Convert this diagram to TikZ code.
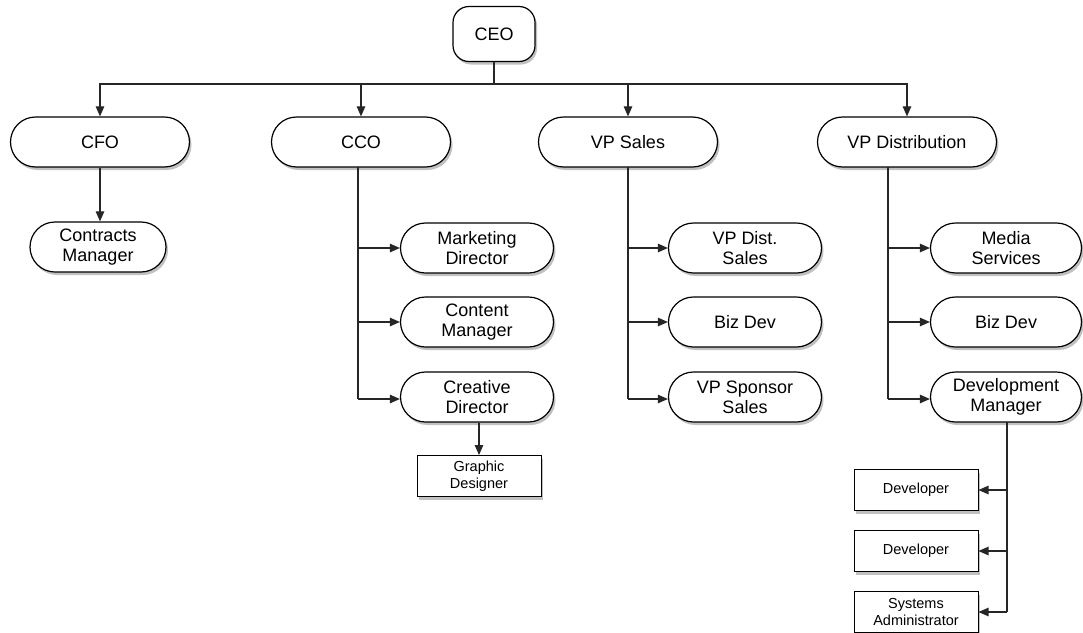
\documentclass[tikz,border=0pt]{standalone}
\usepackage{fontspec}
\setmainfont{Liberation Sans}
\usetikzlibrary{arrows.meta,shapes.misc,shadows}
\begin{document}
\begin{tikzpicture}[x=1pt,y=-1pt,
  every node/.style={font=\fontsize{18}{20}\selectfont, align=center, inner sep=0pt},
  shade/.style={drop shadow={shadow xshift=2pt, shadow yshift=-3pt, opacity=0.35, fill=black!70}},
  pill/.style={rounded rectangle, draw, line width=1.2pt, fill=white, shade,
               minimum width=153pt, minimum height=50pt},
  toppill/.style={pill, minimum width=179pt},
  chief/.style={rectangle, rounded corners=16pt, draw, line width=1.2pt, fill=white, shade,
               minimum width=82pt, minimum height=55pt},
  staff/.style={rectangle, draw, line width=1pt, fill=white, shade,
               font=\fontsize{14.5}{16.5}\selectfont, minimum width=124pt, minimum height=41pt},
  link/.style={line width=1.1pt, draw=black!85},
  arr/.style={link, -{Triangle[length=10pt,width=8.5pt]}}]
\useasboundingbox (0,0) rectangle (1083,632);

% top level
\node[chief] (ceo) at (494,34) {CEO};
\node[toppill] (cfo) at (100,142) {CFO};
\node[toppill] (cco) at (361,142) {CCO};
\node[toppill] (vps) at (628,142) {VP Sales};
\node[toppill] (vpd) at (907,142) {VP Distribution};

% second level
\node[pill, minimum width=136pt] (con) at (98,247) {Contracts\\Manager};
\node[pill] (mkt) at (477,248) {Marketing\\Director};
\node[pill] (cnt) at (477,322) {Content\\Manager};
\node[pill] (cre) at (477,397) {Creative\\Director};
\node[pill] (vds) at (745,248) {VP Dist.\\Sales};
\node[pill] (bds) at (745,322) {Biz Dev};
\node[pill] (vss) at (745,397) {VP Sponsor\\Sales};
\node[pill, minimum width=151pt] (med) at (1006,248) {Media\\Services};
\node[pill, minimum width=151pt] (bdd) at (1006,322) {Biz Dev};
\node[pill, minimum width=151pt] (dev) at (1006,397) {Development\\Manager};

% third level
\node[staff] (gra) at (479,476) {Graphic\\Designer};
\node[staff] (d1) at (916,490) {Developer};
\node[staff] (d2) at (916,551) {Developer};
\node[staff] (sys) at (916,612) {Systems\\Administrator};

% CEO bus
\coordinate (bus) at (494,84);
\draw[link] (ceo.south) -- (bus);
\draw[arr] (bus) -| (cfo.north);
\draw[arr] (bus) -| (cco.north);
\draw[arr] (bus) -| (vps.north);
\draw[arr] (bus) -| (vpd.north);

% CFO
\draw[arr] (cfo.south) -- (cfo.south |- con.north);

% CCO branch
\coordinate (ccot) at (358,167);
\coordinate (ccob) at (358,399);
\draw[link] (ccot) -- (ccob);
\draw[arr] (ccot |- mkt.west) -- (mkt.west);
\draw[arr] (ccot |- cnt.west) -- (cnt.west);
\draw[arr] (ccob) -- (ccob -| cre.west);
\draw[arr] (cre.south -| gra.north) -- (gra.north);

% VP Sales branch
\coordinate (vpst) at (628,167);
\coordinate (vpsb) at (628,399);
\draw[link] (vpst) -- (vpsb);
\draw[arr] (vpst |- vds.west) -- (vds.west);
\draw[arr] (vpst |- bds.west) -- (bds.west);
\draw[arr] (vpsb) -- (vpsb -| vss.west);

% VP Distribution branch
\coordinate (vpdt) at (888,167);
\coordinate (vpdb) at (888,399);
\draw[link] (vpdt) -- (vpdb);
\draw[arr] (vpdt |- med.west) -- (med.west);
\draw[arr] (vpdt |- bdd.west) -- (bdd.west);
\draw[arr] (vpdb) -- (vpdb -| dev.west);

% Development Manager branch
\coordinate (devt) at (1007,422);
\coordinate (devb) at (1007,612);
\draw[link] (devt) -- (devb);
\draw[arr] (devt |- d1.east) -- (d1.east);
\draw[arr] (devt |- d2.east) -- (d2.east);
\draw[arr] (devb) -- (sys.east);
\end{tikzpicture}
\end{document}
